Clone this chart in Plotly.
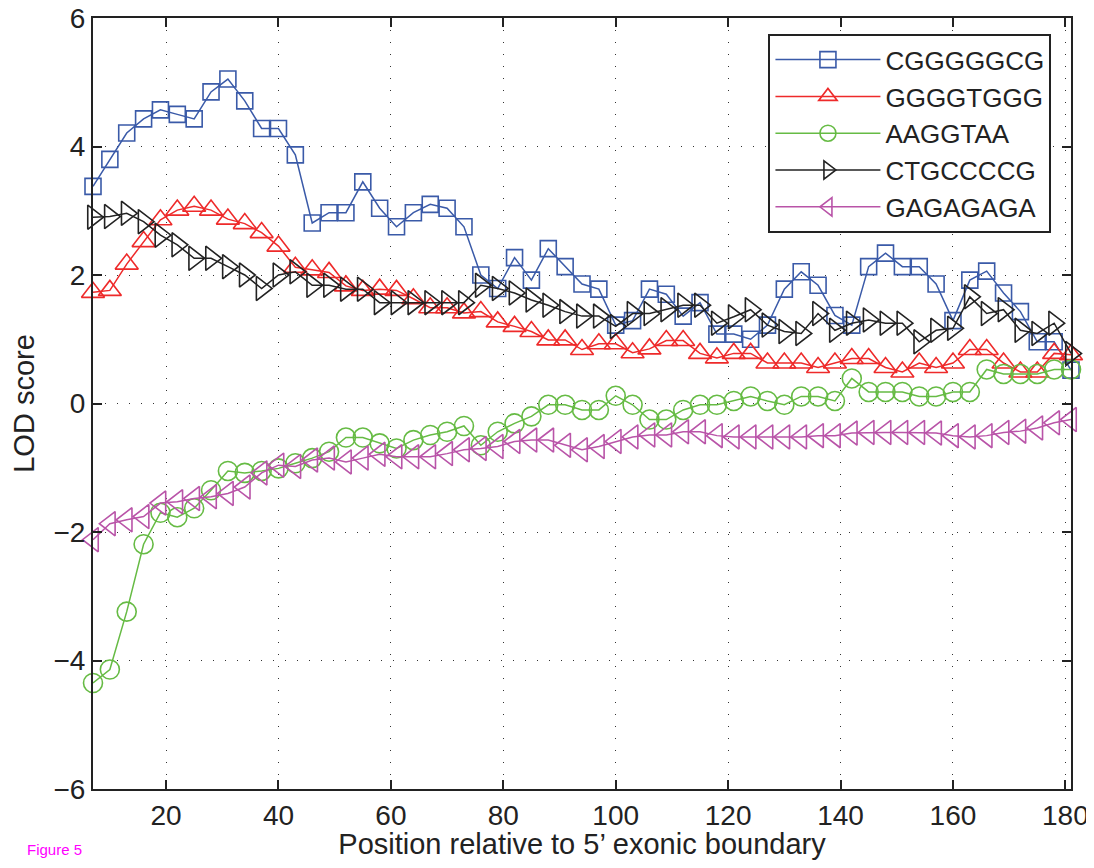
import plotly.graph_objects as go

positions = list(range(7, 182, 3))

cgggggcg = [3.38, 3.80, 4.21, 4.43, 4.57, 4.50, 4.43, 4.85, 5.05, 4.71, 4.28, 4.28, 3.87, 2.81, 2.97, 2.97,
            3.45, 3.04, 2.75, 2.97, 3.10, 3.04, 2.75, 2.00, 1.79, 2.27, 1.92, 2.41, 2.13, 1.86, 1.78, 1.22,
            1.29, 1.78, 1.70, 1.36, 1.57, 1.08, 1.08, 1.00, 1.22, 1.78, 2.05, 1.84, 1.37, 1.22, 2.13, 2.34,
            2.13, 2.13, 1.86, 1.29, 1.92, 2.06, 1.72, 1.43, 0.96, 0.96, 0.52]
ggggtggg = [1.73, 1.76, 2.17, 2.52, 2.86, 3.01, 3.07, 3.01, 2.87, 2.80, 2.66, 2.45, 2.12, 2.08, 2.04, 1.83,
            1.76, 1.78, 1.76, 1.63, 1.49, 1.49, 1.41, 1.43, 1.27, 1.20, 1.12, 0.99, 0.99, 0.84, 0.93, 0.93,
            0.79, 0.85, 0.98, 0.98, 0.78, 0.71, 0.78, 0.78, 0.63, 0.63, 0.63, 0.56, 0.63, 0.70, 0.70, 0.56,
            0.49, 0.63, 0.56, 0.63, 0.84, 0.84, 0.63, 0.49, 0.49, 0.78, 0.76]
aaggtaa = [-4.35, -4.14, -3.24, -2.19, -1.70, -1.77, -1.63, -1.35, -1.05, -1.08, -1.05, -1.01, -0.93, -0.85,
           -0.75, -0.53, -0.53, -0.62, -0.70, -0.57, -0.49, -0.44, -0.35, -0.65, -0.44, -0.31, -0.20, -0.02,
           -0.02, -0.10, -0.10, 0.12, -0.02, -0.25, -0.25, -0.10, -0.02, -0.02, 0.04, 0.11, 0.04, -0.02,
           0.11, 0.11, 0.04, 0.39, 0.18, 0.18, 0.18, 0.11, 0.11, 0.18, 0.18, 0.53, 0.46, 0.46, 0.46, 0.53, 0.53]
ctgccccg = [2.90, 2.91, 2.96, 2.83, 2.62, 2.47, 2.26, 2.26, 2.13, 2.00, 1.79, 2.00, 2.05, 1.84, 1.84, 1.78,
            1.78, 1.57, 1.57, 1.57, 1.57, 1.57, 1.57, 1.84, 1.79, 1.72, 1.61, 1.53, 1.43, 1.36, 1.36, 1.20,
            1.40, 1.40, 1.46, 1.53, 1.53, 1.25, 1.35, 1.46, 1.22, 1.12, 1.09, 1.40, 1.14, 1.25, 1.30, 1.25,
            1.25, 0.96, 1.14, 1.17, 1.66, 1.40, 1.46, 1.14, 1.09, 1.25, 0.78]
gagagaga = [-2.12, -1.87, -1.81, -1.76, -1.55, -1.53, -1.48, -1.45, -1.40, -1.30, -1.08, -0.96, -0.98, -0.88,
            -0.85, -0.91, -0.85, -0.79, -0.83, -0.83, -0.83, -0.78, -0.72, -0.70, -0.67, -0.59, -0.57, -0.57,
            -0.65, -0.72, -0.67, -0.59, -0.52, -0.49, -0.49, -0.44, -0.44, -0.50, -0.52, -0.52, -0.52, -0.52,
            -0.52, -0.50, -0.50, -0.46, -0.45, -0.45, -0.45, -0.45, -0.46, -0.50, -0.52, -0.50, -0.45, -0.43,
            -0.38, -0.30, -0.25]

series_names = ["CGGGGGCG", "GGGGTGGG", "AAGGTAA", "CTGCCCCG", "GAGAGAGA"]
series_values = [cgggggcg, ggggtggg, aaggtaa, ctgccccg, gagagaga]
colors = ["#3a5aa8", "#ee2a2a", "#66bb44", "#222222", "#b954a8"]
symbols = ["square-open", "triangle-up-open", "circle-open", "triangle-right-open", "triangle-left-open"]
sizes = [16, 20, 19, 21, 21]

x_ticks = [20, 40, 60, 80, 100, 120, 140, 160, 180]
y_ticks = [-6, -4, -2, 0, 2, 4, 6]

FONT = "Liberation Sans, Arial, sans-serif"

fig = go.Figure()
for name, vals, col, sym, sz in zip(series_names, series_values, colors, symbols, sizes):
    fig.add_trace(go.Scatter(
        x=positions, y=vals, name=name, mode="lines+markers",
        line=dict(color=col, width=1.5),
        marker=dict(symbol=sym, size=sz, color=col, line=dict(color=col, width=1.6)),
        cliponaxis=False,
    ))

axis_common = dict(
    showline=True, linecolor="#222222", linewidth=2, mirror="ticks",
    ticks="inside", ticklen=9, tickwidth=1.5, tickcolor="#222222",
    showgrid=True, gridcolor="#333333", gridwidth=1, griddash="1px,11px",
    zeroline=False, automargin=False, ticklabeloverflow="allow",
    tickfont=dict(family=FONT, size=28, color="#222222"),
)

fig.update_xaxes(range=[7, 181], tickvals=x_ticks, **axis_common,
                 title=dict(text="Position relative to 5\u2019 exonic boundary",
                            font=dict(family=FONT, size=29, color="#222222"), standoff=4))
fig.update_yaxes(range=[-6, 6], tickvals=y_ticks, **axis_common,
                 title=dict(text="LOD score", font=dict(family=FONT, size=29, color="#222222"), standoff=12))

# the page body has an 8px default margin; the figure is sized and offset to compensate
fig.update_layout(
    width=1086, height=852,
    margin=dict(l=85, r=23, t=10, b=71),
    paper_bgcolor="white", plot_bgcolor="white",
    showlegend=True,
    legend=dict(x=0.98, y=0.979, xanchor="right", yanchor="top",
                bordercolor="#222222", borderwidth=2, bgcolor="white",
                font=dict(family=FONT, size=26, color="#222222"),
                itemwidth=105, tracegroupgap=0, itemsizing="trace"),
    annotations=[dict(text="Figure 5", xref="paper", yref="paper", x=-0.07, y=-0.092,
                      xanchor="left", yanchor="bottom", showarrow=False,
                      font=dict(family=FONT, size=15, color="#ff00ff"))],
)

fig.write_html("out.html")
